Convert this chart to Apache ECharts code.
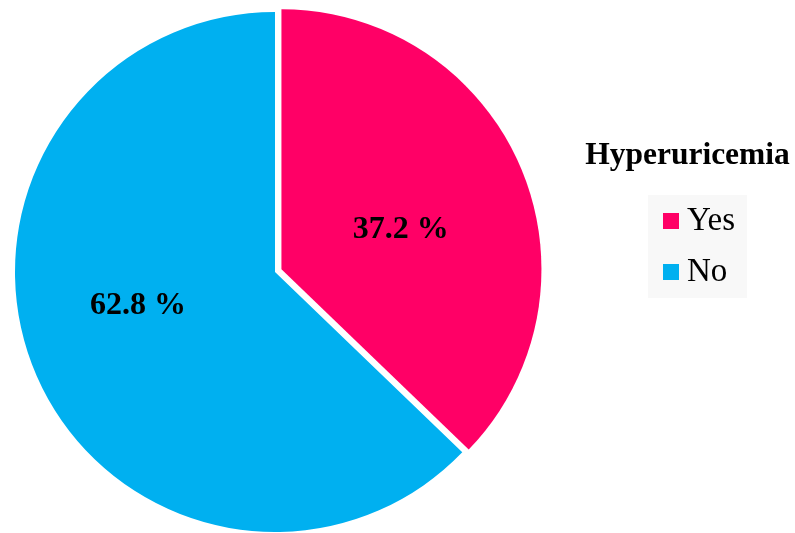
<!DOCTYPE html>
<html>
<head>
<meta charset="utf-8">
<script src="https://cdn.jsdelivr.net/npm/echarts@6/dist/echarts.min.js"></script>
<style>
html,body{margin:0;padding:0;background:#fff;}
#chart{width:795px;height:533px;}
</style>
</head>
<body>
<div id="chart"></div>
<script>
var categories = ['Yes', 'No'];
var values = [37.2, 62.8];
var colors = ['#FF0066', '#00B0F0'];
var legendTitle = 'Hyperuricemia';

var labelNudge = [[-3, 13], [-14.5, -18]];

var chart = echarts.init(document.getElementById('chart'), null, {renderer: 'canvas'});
var serif = '"Liberation Serif", "Times New Roman", serif';

chart.setOption({
  animation: false,
  title: {
    text: legendTitle,
    left: 687.5,
    textAlign: 'center',
    top: 140,
    padding: 0,
    textStyle: {fontFamily: serif, fontWeight: 'bold', fontSize: 31.5, lineHeight: 31, color: '#000'}
  },
  legend: {
    orient: 'vertical',
    left: 648,
    top: 195,
    data: categories,
    icon: 'rect',
    itemWidth: 16,
    itemHeight: 16,
    itemGap: 18,
    padding: [9.5, 12, 9.5, 15],
    backgroundColor: '#f8f8f8',
    selectedMode: false,
    textStyle: {fontFamily: serif, fontSize: 33, lineHeight: 33, color: '#000', padding: [0, 0, 0, 3]}
  },
  series: [{
    type: 'pie',
    center: [275, 272],
    radius: 260,
    startAngle: 90,
    clockwise: true,
    selectedMode: 'single',
    selectedOffset: 7,
    avoidLabelOverlap: false,
    silent: true,
    itemStyle: {borderWidth: 0},
    label: {
      show: true,
      position: 'inside',
      formatter: function (p) { return p.value.toFixed(1) + ' %'; },
      fontFamily: serif,
      fontWeight: 'bold',
      fontSize: 32,
      color: '#000'
    },
    labelLine: {show: false},
    labelLayout: function (p) {
      return {dx: labelNudge[p.dataIndex][0], dy: labelNudge[p.dataIndex][1]};
    },
    emphasis: {disabled: true},
    data: categories.map(function (c, i) {
      return {name: c, value: values[i], selected: i === 0, itemStyle: {color: colors[i]}};
    })
  }]
});
</script>
</body>
</html>
